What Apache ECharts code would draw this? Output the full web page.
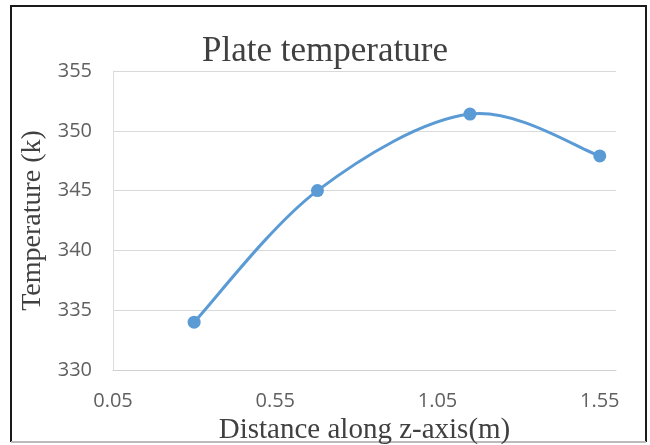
<!DOCTYPE html>
<html>
<head>
<meta charset="utf-8">
<script src="https://cdn.jsdelivr.net/npm/echarts@6/dist/echarts.min.js"></script>
<style>
html,body{margin:0;padding:0;background:#fff;}
#chart{width:650px;height:445px;}
</style>
</head>
<body>
<div id="chart"></div>
<script>
const distances = [0.3, 0.68, 1.15, 1.55];
const temperatures = [334, 345, 351.4, 347.9];
const titleText = 'Plate temperature';
const xName = 'Distance along z-axis(m)';
const yName = 'Temperature (k)';

const points = distances.map((d, i) => [d, temperatures[i]]);
const chart = echarts.init(document.getElementById('chart'));
const serif = '"Liberation Serif", "Times New Roman", serif';
const sans = '"Open Sans", "Liberation Sans", sans-serif';
const lineColor = '#5b9bd5';

// Smoothed (Catmull-Rom style) segment from point i to i+1, positioned via the axes' scales
function renderSegment(params, api) {
  const i = params.dataIndex;
  const n = points.length;
  if (i >= n - 1) return null;
  const P = k => api.coord(points[Math.max(0, Math.min(n - 1, k))]);
  const p0 = P(i - 1), p1 = P(i), p2 = P(i + 1), p3 = P(i + 2);
  const t = 1 / 6;
  return {
    type: 'bezierCurve',
    shape: {
      x1: p1[0], y1: p1[1],
      cpx1: p1[0] + (p2[0] - p0[0]) * t, cpy1: p1[1] + (p2[1] - p0[1]) * t,
      cpx2: p2[0] - (p3[0] - p1[0]) * t, cpy2: p2[1] - (p3[1] - p1[1]) * t,
      x2: p2[0], y2: p2[1]
    },
    style: {stroke: lineColor, lineWidth: 3, fill: null, lineCap: 'round'}
  };
}

chart.setOption({
  animation: false,
  backgroundColor: '#ffffff',
  title: {
    text: titleText,
    left: 'center',
    top: 29,
    textStyle: {fontFamily: serif, fontSize: 35, fontWeight: 'normal', color: '#404040'}
  },
  grid: {left: 113, right: 34, top: 71, bottom: 75, outerBoundsMode: 'none'},
  xAxis: {
    type: 'value',
    min: 0.05, max: 1.6, interval: 0.5,
    name: xName, nameLocation: 'middle', nameGap: 33,
    nameTextStyle: {fontFamily: serif, fontSize: 29, color: '#404040'},
    axisLine: {show: true, lineStyle: {color: '#d0d0d0', width: 1}},
    axisTick: {show: false},
    splitLine: {show: false},
    axisLabel: {
      showMaxLabel: false,
      margin: 21,
      fontFamily: sans, fontSize: 20, color: '#606060',
      formatter: v => Number(v).toFixed(2)
    }
  },
  yAxis: {
    type: 'value',
    min: 330, max: 355, interval: 5,
    name: yName, nameLocation: 'middle', nameRotate: 90, nameGap: 62,
    nameTextStyle: {fontFamily: serif, fontSize: 28, color: '#404040'},
    axisLine: {show: true, lineStyle: {color: '#dddddd', width: 1}},
    axisTick: {show: false},
    splitLine: {show: true, lineStyle: {color: '#d9d9d9', width: 1}},
    axisLabel: {margin: 21, fontFamily: sans, fontSize: 20, color: '#606060'}
  },
  series: [
    {
      type: 'custom',
      data: points,
      encode: {x: 0, y: 1},
      renderItem: renderSegment,
      silent: true,
      z: 2
    },
    {
      type: 'scatter',
      data: points,
      symbol: 'circle',
      symbolSize: 13,
      itemStyle: {color: lineColor, opacity: 1},
      z: 3
    }
  ],
  graphic: [
    {type: 'polyline', shape: {points: [[11, 442], [11, 6], [646, 6], [646, 442]]},
     style: {stroke: '#1a1a1a', lineWidth: 2, fill: null}, silent: true},
    {type: 'line', shape: {x1: 11, y1: 442, x2: 646, y2: 442},
     style: {stroke: '#bbbbbb', lineWidth: 2}, silent: true}
  ]
});
</script>
</body>
</html>
